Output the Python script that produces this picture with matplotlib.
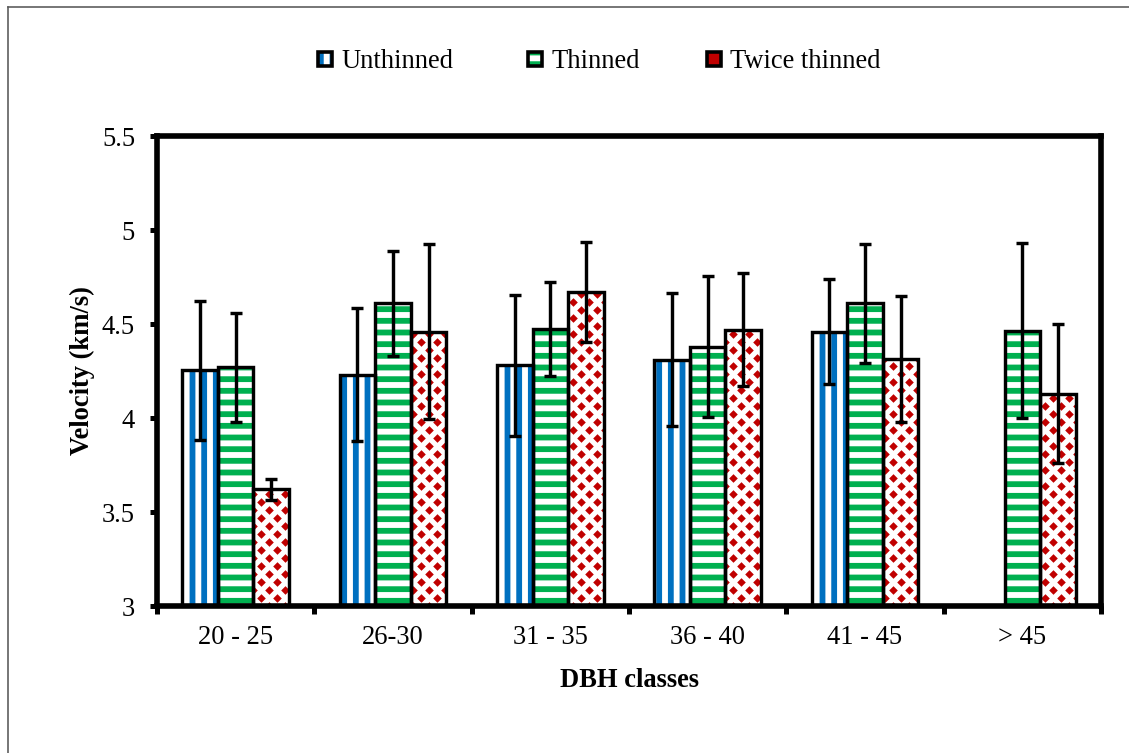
import numpy as np
import matplotlib
matplotlib.use("Agg")
import matplotlib.pyplot as plt
from matplotlib.path import Path
from matplotlib.patches import Rectangle
from matplotlib.lines import Line2D

# ---- data -------------------------------------------------------------
classes = ["20 - 25", "26-30", "31 - 35", "36 - 40", "41 - 45", "> 45"]
series_names = ["Unthinned", "Thinned", "Twice thinned"]

unthinned = [4.255, 4.23, 4.28, 4.31, 4.46, np.nan]
unthinned_err = [0.37, 0.355, 0.375, 0.355, 0.28, np.nan]
thinned = [4.27, 4.61, 4.475, 4.38, 4.61, 4.465]
thinned_err = [0.29, 0.28, 0.25, 0.375, 0.315, 0.465]
twice_thinned = [3.62, 4.46, 4.67, 4.47, 4.315, 4.13]
twice_thinned_err = [0.055, 0.465, 0.265, 0.30, 0.335, 0.37]

y_ticks = [3, 3.5, 4, 4.5, 5, 5.5]
y_tick_labels = ["3", "3.5", "4", "4.5", "5", "5.5"]

# ---- style ------------------------------------------------------------
DPI = 70
W, H = 1129, 753


def pt(pixels):
    """Convert a pixel length to points at the figure resolution."""
    return pixels * 72.0 / DPI


FONT = "Liberation Serif"
FS = pt(26.5)
BLUE, GREEN, RED = "#0070C0", "#00B050", "#C00000"

plt.rcParams["font.family"] = [FONT, "DejaVu Serif"]
plt.rcParams["hatch.linewidth"] = pt(5.8)

fig = plt.figure(figsize=(W / DPI, H / DPI), dpi=DPI)
ax = fig.add_axes([157 / W, 147 / H, 944 / W, 470 / H])
ax.set_xlim(0, len(classes))
ax.set_ylim(y_ticks[0], y_ticks[-1])

centers = np.arange(len(classes)) + 0.5
bar_w = 0.226
values = [unthinned, thinned, twice_thinned]
errors = [unthinned_err, thinned_err, twice_thinned_err]
shifts = [-bar_w, 0.0, bar_w]

# diamond marker used for the twice-thinned fill pattern
diamond = Path([(0, 1), (1, 0), (0, -1), (-1, 0), (0, 1)],
               [Path.MOVETO, Path.LINETO, Path.LINETO, Path.LINETO, Path.CLOSEPOLY])

ppx = ax.transData.transform((1, 0))[0] - ax.transData.transform((0, 0))[0]
ppy = ax.transData.transform((0, 1))[1] - ax.transData.transform((0, 0))[1]
col_step = 16.0 / ppx
row_step = 8.0 / ppy


def diamond_fill(rect):
    """Fill the visible part of a bar with a staggered lattice of red diamonds."""
    ymin = ax.get_ylim()[0]
    xl, xr = rect.get_x(), rect.get_x() + rect.get_width()
    ytop = rect.get_y() + rect.get_height()
    px_list, py_list = [], []
    k = 0
    y = ymin
    while y < ytop + row_step:
        off = (k % 2) * col_step / 2
        i0 = int(np.floor(xl / col_step)) - 1
        i1 = int(np.ceil(xr / col_step)) + 1
        for i in range(i0, i1 + 1):
            px_list.append(i * col_step + off)
            py_list.append(y)
        k += 1
        y += row_step
    sc = ax.scatter(px_list, py_list, marker=diamond, s=pt(8.6) ** 2,
                    color=RED, linewidths=0, zorder=2)
    clip = Rectangle((xl, ymin), xr - xl, ytop - ymin, transform=ax.transData)
    sc.set_clip_path(clip)


for idx, (vals, errs, shift) in enumerate(zip(values, errors, shifts)):
    xs = centers + shift
    if idx == 0:
        ax.bar(xs, vals, bar_w, color="white", edgecolor=BLUE, hatch="|",
               linewidth=0, zorder=1)
    elif idx == 1:
        ax.bar(xs, vals, bar_w, color="white", edgecolor=GREEN, hatch="-",
               linewidth=0, zorder=1)
    else:
        base = ax.bar(xs, vals, bar_w, color="white", linewidth=0, zorder=1)
        for rect in base.patches:
            diamond_fill(rect)
    ax.bar(xs, vals, bar_w, fill=False, edgecolor="black",
           linewidth=pt(3.4), zorder=3)
    ax.errorbar(xs, vals, yerr=errs, fmt="none", ecolor="black",
                elinewidth=pt(3.4), capsize=pt(6.2), capthick=pt(3.4), zorder=4)

# ---- axes -------------------------------------------------------------
for sp in ax.spines.values():
    sp.set_linewidth(pt(5.6))
    sp.set_color("black")
    sp.set_zorder(5)

ax.set_yticks(y_ticks)
ax.set_yticklabels(y_tick_labels)
ax.tick_params(axis="y", direction="out", length=pt(7), width=pt(5),
               pad=pt(15), labelsize=FS)

ax.set_xticks(np.arange(len(classes) + 1))
ax.set_xticklabels([])
ax.set_xticks(centers, minor=True)
ax.set_xticklabels(classes, minor=True)
ax.tick_params(axis="x", which="major", direction="out", length=pt(8),
               width=pt(5))
ax.tick_params(axis="x", which="minor", length=0, pad=pt(19), labelsize=FS)

ax.set_xlabel("DBH classes", fontsize=FS, fontweight="bold")
ax.xaxis.set_label_coords(0.5, -0.131)
ax.set_ylabel("Velocity (km/s)", fontsize=FS, fontweight="bold")
ax.yaxis.set_label_coords(-0.066, 0.5)

# ---- legend -----------------------------------------------------------
legend_items = [(318, "Unthinned"), (528, "Thinned"), (707, "Twice thinned")]
sq = 14
ly = 59
for j, (lx, name) in enumerate(legend_items):
    if j == 0:
        inner = Rectangle((lx / W, 1 - (ly + sq / 2) / H), sq / W, sq / H,
                          transform=fig.transFigure, facecolor="white",
                          edgecolor=BLUE, hatch="|", linewidth=0)
    elif j == 1:
        inner = Rectangle((lx / W, 1 - (ly + sq / 2) / H), sq / W, sq / H,
                          transform=fig.transFigure, facecolor="white",
                          edgecolor=GREEN, hatch="-", linewidth=0)
    else:
        inner = Rectangle((lx / W, 1 - (ly + sq / 2) / H), sq / W, sq / H,
                          transform=fig.transFigure, facecolor=RED,
                          linewidth=0)
    fig.add_artist(inner)
    fig.add_artist(Rectangle((lx / W, 1 - (ly + sq / 2) / H), sq / W, sq / H,
                             transform=fig.transFigure, fill=False,
                             edgecolor="black", linewidth=pt(3.6)))
    fig.text((lx + sq + 9) / W, 1 - ly / H, name, fontsize=FS,
             ha="left", va="center_baseline")

# ---- outer frame ------------------------------------------------------
frame_kw = dict(transform=fig.transFigure, color="#595959", linewidth=pt(1.6))
fig.add_artist(Line2D([8 / W, 8 / W], [0, 1 - 7 / H], **frame_kw))
fig.add_artist(Line2D([8 / W, 1], [1 - 7 / H, 1 - 7 / H], **frame_kw))

fig.savefig("out.png", dpi=DPI, facecolor="white")
